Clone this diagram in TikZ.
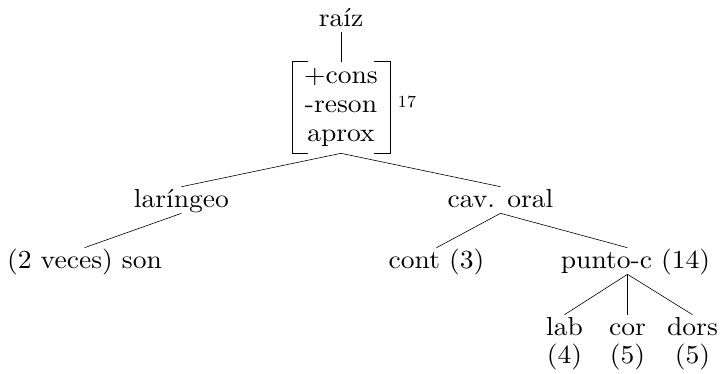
\documentclass[tikz,border=0pt]{standalone}
\usepackage{fontspec}
\setmainfont{lmroman10-regular.otf}[FakeStretch=1.06]
\usepackage{tikz}
\usetikzlibrary{positioning}

\begin{document}
\begin{tikzpicture}[nodes={inner sep=0pt, text height=20pt, text depth=6pt, font=\fontsize{26}{29}\selectfont}, line width=0.6pt]
		\useasboundingbox (0,0) rectangle (721pt,-373pt);
		\node (raiz) at (341pt,-19pt) {raíz};
		\node (feat) [below of = raiz, node distance=88.5pt, text height={}, text depth={}, minimum width=97pt, minimum height=91pt, align=center] {+cons\\-reson\\aprox};
		\node (idx) [right of = feat, node distance=66pt, yshift=7.5pt, font=\fontsize{17}{20}\selectfont] {17};
		\node (lar) [below of = feat, node distance=92.5pt, xshift=-159.5pt] {laríngeo};
		\node (cav) [below of = feat, node distance=92.5pt, xshift=159.5pt] {cav. oral};
		\node (son) [below of = lar, node distance=61pt, xshift=-97pt] {(2 veces) son};
		\node (cont) [below of = cav, node distance=61pt, xshift=-64pt] {cont (3)};
		\node (pc) [below of = cav, node distance=61pt, xshift=135pt] {punto-c (14)};
		\node (lab) [below of = pc, node distance=67pt, xshift=-71pt] {lab};
		\node (cor) [below of = pc, node distance=67pt, xshift=-8pt] {cor};
		\node (dors) [below of = pc, node distance=67pt, xshift=57pt] {dors};
		\node (n4) [below of = lab, node distance=28pt] {(4)};
		\node (n5a) [below of = cor, node distance=28pt] {(5)};
		\node (n5b) [below of = dors, node distance=28pt] {(5)};
		% corchetes
		\draw ([xshift=16pt]feat.north west) -- (feat.north west) -- (feat.south west) -- ([xshift=16pt]feat.south west);
		\draw ([xshift=-16pt]feat.north east) -- (feat.north east) -- (feat.south east) -- ([xshift=-16pt]feat.south east);
		\draw (raiz) -- (feat);
		\draw (feat.south) -- (lar.north);
		\draw (feat.south) -- (cav.north);
		\draw (lar.south) -- (son.north);
		\draw (cav.south) -- (cont.north);
		\draw (cav.south) -- ([xshift=-8pt]pc.north);
		\draw ([xshift=-8pt]pc.south) -- (lab.north);
		\draw ([xshift=-8pt]pc.south) -- (cor.north);
		\draw ([xshift=-8pt]pc.south) -- (dors.north);
		\end{tikzpicture}
\end{document}
